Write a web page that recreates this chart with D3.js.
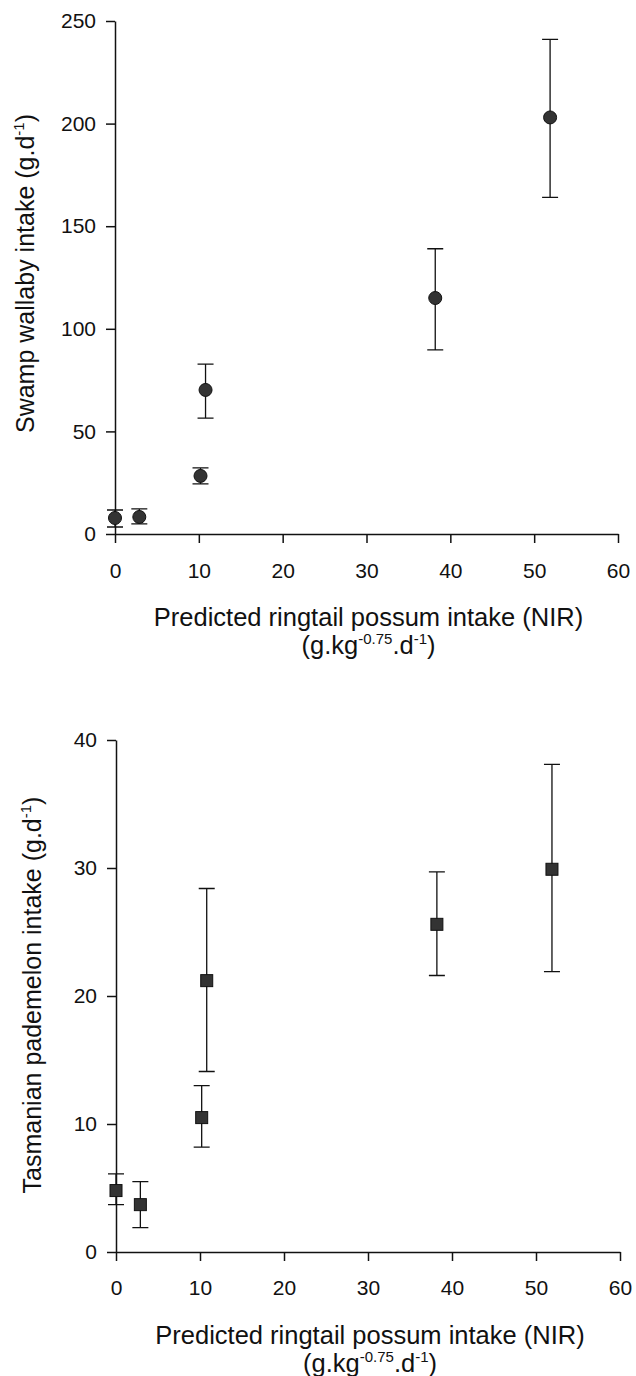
<!DOCTYPE html>
<html>
<head>
<meta charset="utf-8">
<script src="https://cdn.jsdelivr.net/npm/d3@7"></script>
<style>
  body { margin: 0; background: #fff; }
  text { font-family: "Liberation Sans", Arial, sans-serif; fill: #111; }
  .axis path, .axis line { stroke: #111; stroke-width: 1.5px; }
  .err { stroke: #111; stroke-width: 1.3px; fill: none; }
</style>
</head>
<body>
<svg id="chart" width="636" height="1376"></svg>
<script>
  // predicted ringtail possum intake (x), shared by both panels
  const possumIntake = [0, 2.9, 10.2, 10.8, 38.2, 51.9];

  // swamp wallaby: mean, upper and lower error bar
  const wallabyMean = [7.8, 8.3, 28.3, 70.2, 115, 203];
  const wallabyHigh = [11.7, 12.2, 32.2, 82.8, 139, 241];
  const wallabyLow = [3.4, 4.9, 24.4, 56.5, 89.7, 164];

  // tasmanian pademelon: mean, upper and lower error bar
  const pademelonMean = [4.8, 3.7, 10.5, 21.2, 25.6, 29.9];
  const pademelonHigh = [6.1, 5.5, 13.0, 28.4, 29.7, 38.1];
  const pademelonLow = [3.7, 1.9, 8.2, 14.1, 21.6, 21.9];

  const xTicks = [0, 10, 20, 30, 40, 50, 60];
  const wallabyTicks = [0, 50, 100, 150, 200, 250];
  const pademelonTicks = [0, 10, 20, 30, 40];

  const svg = d3.select("#chart");

  function drawPanel(opts) {
    const x = d3.scaleLinear().domain([0, 60]).range([opts.left, opts.right]);
    const y = d3.scaleLinear().domain([0, opts.yMax]).range([opts.bottom, opts.top]);
    const g = svg.append("g");

    g.append("g")
      .attr("class", "axis")
      .attr("transform", `translate(0,${opts.bottom})`)
      .call(d3.axisBottom(x).tickValues(xTicks).tickSize(9).tickPadding(opts.xPad).tickSizeOuter(0))
      .call((a) => a.selectAll("text").attr("font-size", 21).attr("font-family", null));

    g.append("g")
      .attr("class", "axis")
      .attr("transform", `translate(${opts.left},0)`)
      .call(d3.axisLeft(y).tickValues(opts.yTicks).tickSize(9).tickPadding(10).tickSizeOuter(0))
      .call((a) => a.selectAll("text").attr("font-size", 21).attr("font-family", null));

    const pts = possumIntake.map((v, i) => ({
      x: v, m: opts.mean[i], hi: opts.high[i], lo: opts.low[i]
    }));

    const cap = 8;
    g.append("g").selectAll("path").data(pts).join("path")
      .attr("class", "err")
      .attr("d", (d) => `M${x(d.x)},${y(d.hi)}V${y(d.lo)}` +
        `M${x(d.x) - cap},${y(d.hi)}h${cap * 2}` +
        `M${x(d.x) - cap},${y(d.lo)}h${cap * 2}`);

    if (opts.shape === "circle") {
      g.append("g").selectAll("circle").data(pts).join("circle")
        .attr("cx", (d) => x(d.x))
        .attr("cy", (d) => y(d.m))
        .attr("r", 6.5)
        .attr("fill", "#333")
        .attr("stroke", "#111");
    } else {
      g.append("g").selectAll("rect").data(pts).join("rect")
        .attr("x", (d) => x(d.x) - 6)
        .attr("y", (d) => y(d.m) - 6)
        .attr("width", 12)
        .attr("height", 12)
        .attr("fill", "#333")
        .attr("stroke", "#111");
    }

    // y title
    const yt = g.append("text")
      .attr("transform", `translate(${opts.yTitleX},${(opts.top + opts.bottom) / 2 + opts.yTitleShift}) rotate(-90)`)
      .attr("text-anchor", "middle")
      .attr("font-size", 25);
    yt.append("tspan").text(opts.yTitle + " (g.d");
    yt.append("tspan").attr("font-size", 15).attr("dy", -10).text("-1");
    yt.append("tspan").attr("dy", 10).text(")");

    // x title, two lines
    const cx = (opts.left + opts.right) / 2 + 2;
    g.append("text")
      .attr("x", cx)
      .attr("y", opts.bottom + 92)
      .attr("text-anchor", "middle")
      .attr("font-size", 25.5)
      .text("Predicted ringtail possum intake (NIR)");
    const t2 = g.append("text")
      .attr("x", cx)
      .attr("y", opts.bottom + 120)
      .attr("text-anchor", "middle")
      .attr("font-size", 25.5);
    t2.append("tspan").text("(g.kg");
    t2.append("tspan").attr("font-size", 15).attr("dy", -10).text("-0.75");
    t2.append("tspan").attr("dy", 10).text(".d");
    t2.append("tspan").attr("font-size", 15).attr("dy", -10).text("-1");
    t2.append("tspan").attr("dy", 10).text(")");
  }

  drawPanel({
    left: 115, right: 618, top: 21, bottom: 534, yMax: 250, xPad: 20,
    yTicks: wallabyTicks, mean: wallabyMean, high: wallabyHigh, low: wallabyLow,
    shape: "circle", yTitle: "Swamp wallaby intake", yTitleX: 34, yTitleShift: -4
  });

  drawPanel({
    left: 116, right: 620, top: 740, bottom: 1252, yMax: 40, xPad: 19,
    yTicks: pademelonTicks, mean: pademelonMean, high: pademelonHigh, low: pademelonLow,
    shape: "square", yTitle: "Tasmanian pademelon intake", yTitleX: 41, yTitleShift: -1
  });
</script>
</body>
</html>
